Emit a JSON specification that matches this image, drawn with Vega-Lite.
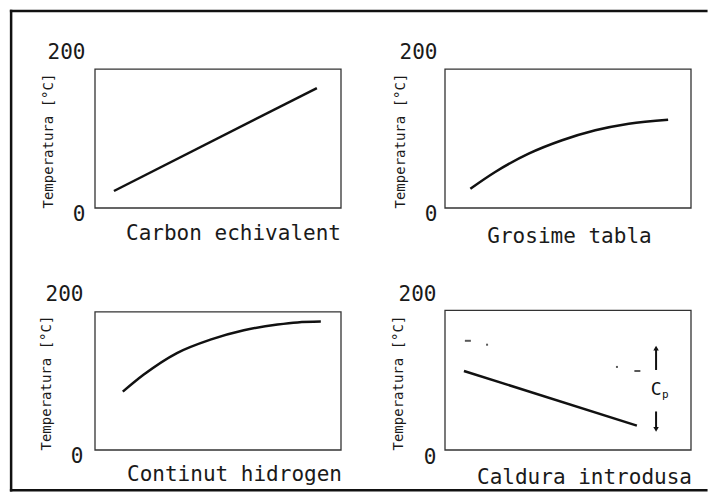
{
  "$schema": "https://vega.github.io/schema/vega-lite/v6.json",
  "autosize": {"type": "pad"},
  "padding": {"left": 9, "top": 9, "right": 0, "bottom": 0},
  "background": "white",
  "config": {
    "view": {"stroke": null},
    "axis": {"grid": false, "domain": false, "ticks": false, "labelFont": "DejaVu Sans Mono", "labelFontSize": 21, "labelColor": "#1a1a1a", "titleFont": "DejaVu Sans Mono", "titleFontWeight": "normal", "titleColor": "#1a1a1a"},
    "axisX": {"titleFontSize": 21, "labels": false},
    "axisY": {"titleFontSize": 14, "labelFlush": false, "labelOverlap": false}
  },
  "columns": 2,
  "bounds": "flush",
  "spacing": {"row": 86, "column": 104},
  "concat": [
    {
      "width": 246, "height": 156,
      "layer": [
        {
          "data": {"values": [{}]},
          "mark": {"type": "rect", "fill": null, "stroke": "#333", "strokeWidth": 1.3},
          "encoding": {
            "x": {"datum": 0, "type": "quantitative", "scale": {"domain": [0, 100], "nice": false, "zero": false}, "axis": {"title": "Carbon echivalent", "titleX": 138, "titleY": 25, "titleBaseline": "middle", "titleAlign": "center"}},
            "x2": {"datum": 100},
            "y": {"datum": 0, "type": "quantitative", "scale": {"domain": [0, 200], "nice": false, "zero": false}, "axis": {"values": [0, 200], "title": "Temperatura [°C]", "titleX": -47, "titleY": 156, "titleAngle": -90, "titleAlign": "left", "titleBaseline": "middle", "labelPadding": 10, "labelOffset": {"condition": {"test": "datum.value == 0", "value": 6}, "value": 0}}},
            "y2": {"datum": 178}
          }
        },
        {
          "data": {"values": [{}]},
          "mark": {"type": "rule", "color": "#111", "strokeWidth": 2.5, "strokeCap": "square"},
          "encoding": {"x": {"datum": -34.1, "type": "quantitative"}, "y": {"datum": 252.6, "type": "quantitative"}, "y2": {"datum": -362.0}}
        },
        {
          "data": {"values": [{}]},
          "mark": {"type": "rule", "color": "#111", "strokeWidth": 2.5, "strokeCap": "square"},
          "encoding": {"x": {"datum": -34.1, "type": "quantitative"}, "x2": {"datum": 248.5}, "y": {"datum": 252.6, "type": "quantitative"}}
        },
        {
          "data": {"values": [{}]},
          "mark": {"type": "rule", "color": "#111", "strokeWidth": 2.5, "strokeCap": "square"},
          "encoding": {"x": {"datum": -34.1, "type": "quantitative"}, "x2": {"datum": 248.5}, "y": {"datum": -362.0, "type": "quantitative"}}
        },
        {
          "data": {"values": [{"x": 7.7, "y": 21.8}, {"x": 90.2, "y": 153.8}]},
          "mark": {"type": "line", "color": "#111", "strokeWidth": 2.5},
          "encoding": {"x": {"field": "x", "type": "quantitative"}, "y": {"field": "y", "type": "quantitative"}}
        }
      ]
    },
    {
      "width": 246, "height": 156,
      "layer": [
        {
          "data": {"values": [{}]},
          "mark": {"type": "rect", "fill": null, "stroke": "#333", "strokeWidth": 1.3},
          "encoding": {
            "x": {"datum": 0, "type": "quantitative", "scale": {"domain": [0, 100], "nice": false, "zero": false}, "axis": {"title": "Grosime  tabla", "titleX": 124, "titleY": 28, "titleBaseline": "middle", "titleAlign": "center"}},
            "x2": {"datum": 100},
            "y": {"datum": 0, "type": "quantitative", "scale": {"domain": [0, 200], "nice": false, "zero": false}, "axis": {"values": [0, 200], "title": "Temperatura [°C]", "titleX": -45, "titleY": 156, "titleAngle": -90, "titleAlign": "left", "titleBaseline": "middle", "labelPadding": 8, "labelOffset": {"condition": {"test": "datum.value == 0", "value": 6}, "value": 0}}},
            "y2": {"datum": 178}
          }
        },
        {
          "data": {"values": [{"x": 10.3, "y": 24.7}, {"x": 20.4, "y": 46.2}, {"x": 34.0, "y": 69.6}, {"x": 47.6, "y": 86.8}, {"x": 61.1, "y": 99.6}, {"x": 74.7, "y": 108.1}, {"x": 90.7, "y": 113.2}]},
          "mark": {"type": "line", "color": "#111", "strokeWidth": 2.5, "interpolate": "monotone"},
          "encoding": {"x": {"field": "x", "type": "quantitative"}, "y": {"field": "y", "type": "quantitative"}}
        }
      ]
    },
    {
      "width": 246, "height": 156,
      "layer": [
        {
          "data": {"values": [{}]},
          "mark": {"type": "rect", "fill": null, "stroke": "#333", "strokeWidth": 1.3},
          "encoding": {
            "x": {"datum": 0, "type": "quantitative", "scale": {"domain": [0, 100], "nice": false, "zero": false}, "axis": {"title": "Continut hidrogen", "titleX": 139, "titleY": 24, "titleBaseline": "middle", "titleAlign": "center"}},
            "x2": {"datum": 100},
            "y": {"datum": 0, "type": "quantitative", "scale": {"domain": [0, 200], "nice": false, "zero": false}, "axis": {"values": [0, 200], "title": "Temperatura [°C]", "titleX": -49, "titleY": 156, "titleAngle": -90, "titleAlign": "left", "titleBaseline": "middle", "labelPadding": 12, "labelOffset": {"condition": {"test": "datum.value == 0", "value": 6}, "value": 0}}},
            "y2": {"datum": 177}
          }
        },
        {
          "data": {"values": [{"x": 11.3, "y": 74.8}, {"x": 19.7, "y": 96.4}, {"x": 33.3, "y": 124.3}, {"x": 46.9, "y": 141.5}, {"x": 60.5, "y": 153.5}, {"x": 74.2, "y": 160.9}, {"x": 82.3, "y": 163.6}, {"x": 91.8, "y": 164.6}]},
          "mark": {"type": "line", "color": "#111", "strokeWidth": 2.5, "interpolate": "monotone"},
          "encoding": {"x": {"field": "x", "type": "quantitative"}, "y": {"field": "y", "type": "quantitative"}}
        }
      ]
    },
    {
      "width": 246, "height": 156,
      "layer": [
        {
          "data": {"values": [{}]},
          "mark": {"type": "rect", "fill": null, "stroke": "#333", "strokeWidth": 1.3},
          "encoding": {
            "x": {"datum": 0, "type": "quantitative", "scale": {"domain": [0, 100], "nice": false, "zero": false}, "axis": {"title": "Caldura introdusa", "titleX": 139, "titleY": 27, "titleBaseline": "middle", "titleAlign": "center"}},
            "x2": {"datum": 100},
            "y": {"datum": 0, "type": "quantitative", "scale": {"domain": [0, 200], "nice": false, "zero": false}, "axis": {"values": [0, 200], "title": "Temperatura [°C]", "titleX": -47, "titleY": 156, "titleAngle": -90, "titleAlign": "left", "titleBaseline": "middle", "labelPadding": 9, "labelOffset": {"condition": {"test": "datum.value == 0", "value": 7}, "value": 0}}},
            "y2": {"datum": 179}
          }
        },
        {
          "data": {"values": [{"x": 7.7, "y": 101.3}, {"x": 78.0, "y": 31.2}]},
          "mark": {"type": "line", "color": "#111", "strokeWidth": 2.5},
          "encoding": {"x": {"field": "x", "type": "quantitative"}, "y": {"field": "y", "type": "quantitative"}}
        },
        {
          "data": {"values": [{"x": 9.3, "y": 140.0}, {"x": 78.2, "y": 101.3}]},
          "mark": {"type": "tick", "orient": "horizontal", "color": "#111", "size": 6, "thickness": 2},
          "encoding": {"x": {"field": "x", "type": "quantitative"}, "y": {"field": "y", "type": "quantitative"}}
        },
        {
          "data": {"values": [{"x": 17.1, "y": 135.0}, {"x": 69.9, "y": 106.5}]},
          "mark": {"type": "tick", "orient": "horizontal", "color": "#111", "size": 2, "thickness": 2},
          "encoding": {"x": {"field": "x", "type": "quantitative"}, "y": {"field": "y", "type": "quantitative"}}
        },
        {
          "data": {"values": [{"x": 85.8, "y": 102.6, "y2": 131.0}, {"x": 85.8, "y": 49.4, "y2": 26.0}]},
          "mark": {"type": "rule", "color": "#111", "strokeWidth": 2},
          "encoding": {"x": {"field": "x", "type": "quantitative"}, "y": {"field": "y", "type": "quantitative"}, "y2": {"field": "y2"}}
        },
        {
          "data": {"values": [{"x": 85.8, "y": 130.5}]},
          "mark": {"type": "point", "shape": "triangle-up", "filled": true, "color": "#111", "size": 30, "opacity": 1},
          "encoding": {"x": {"field": "x", "type": "quantitative"}, "y": {"field": "y", "type": "quantitative"}}
        },
        {
          "data": {"values": [{"x": 85.8, "y": 26.5}]},
          "mark": {"type": "point", "shape": "triangle-down", "filled": true, "color": "#111", "size": 30, "opacity": 1},
          "encoding": {"x": {"field": "x", "type": "quantitative"}, "y": {"field": "y", "type": "quantitative"}}
        },
        {
          "data": {"values": [{"x": 85.8, "y": 77.0, "t": "C"}]},
          "mark": {"type": "text", "font": "DejaVu Sans Mono", "fontSize": 18, "color": "#111", "align": "center", "baseline": "middle"},
          "encoding": {"x": {"field": "x", "type": "quantitative"}, "y": {"field": "y", "type": "quantitative"}, "text": {"field": "t"}}
        },
        {
          "data": {"values": [{"x": 89.6, "y": 71.0, "t": "p"}]},
          "mark": {"type": "text", "font": "DejaVu Sans Mono", "fontSize": 11, "color": "#111", "align": "center", "baseline": "middle"},
          "encoding": {"x": {"field": "x", "type": "quantitative"}, "y": {"field": "y", "type": "quantitative"}, "text": {"field": "t"}}
        }
      ]
    }
  ]
}
